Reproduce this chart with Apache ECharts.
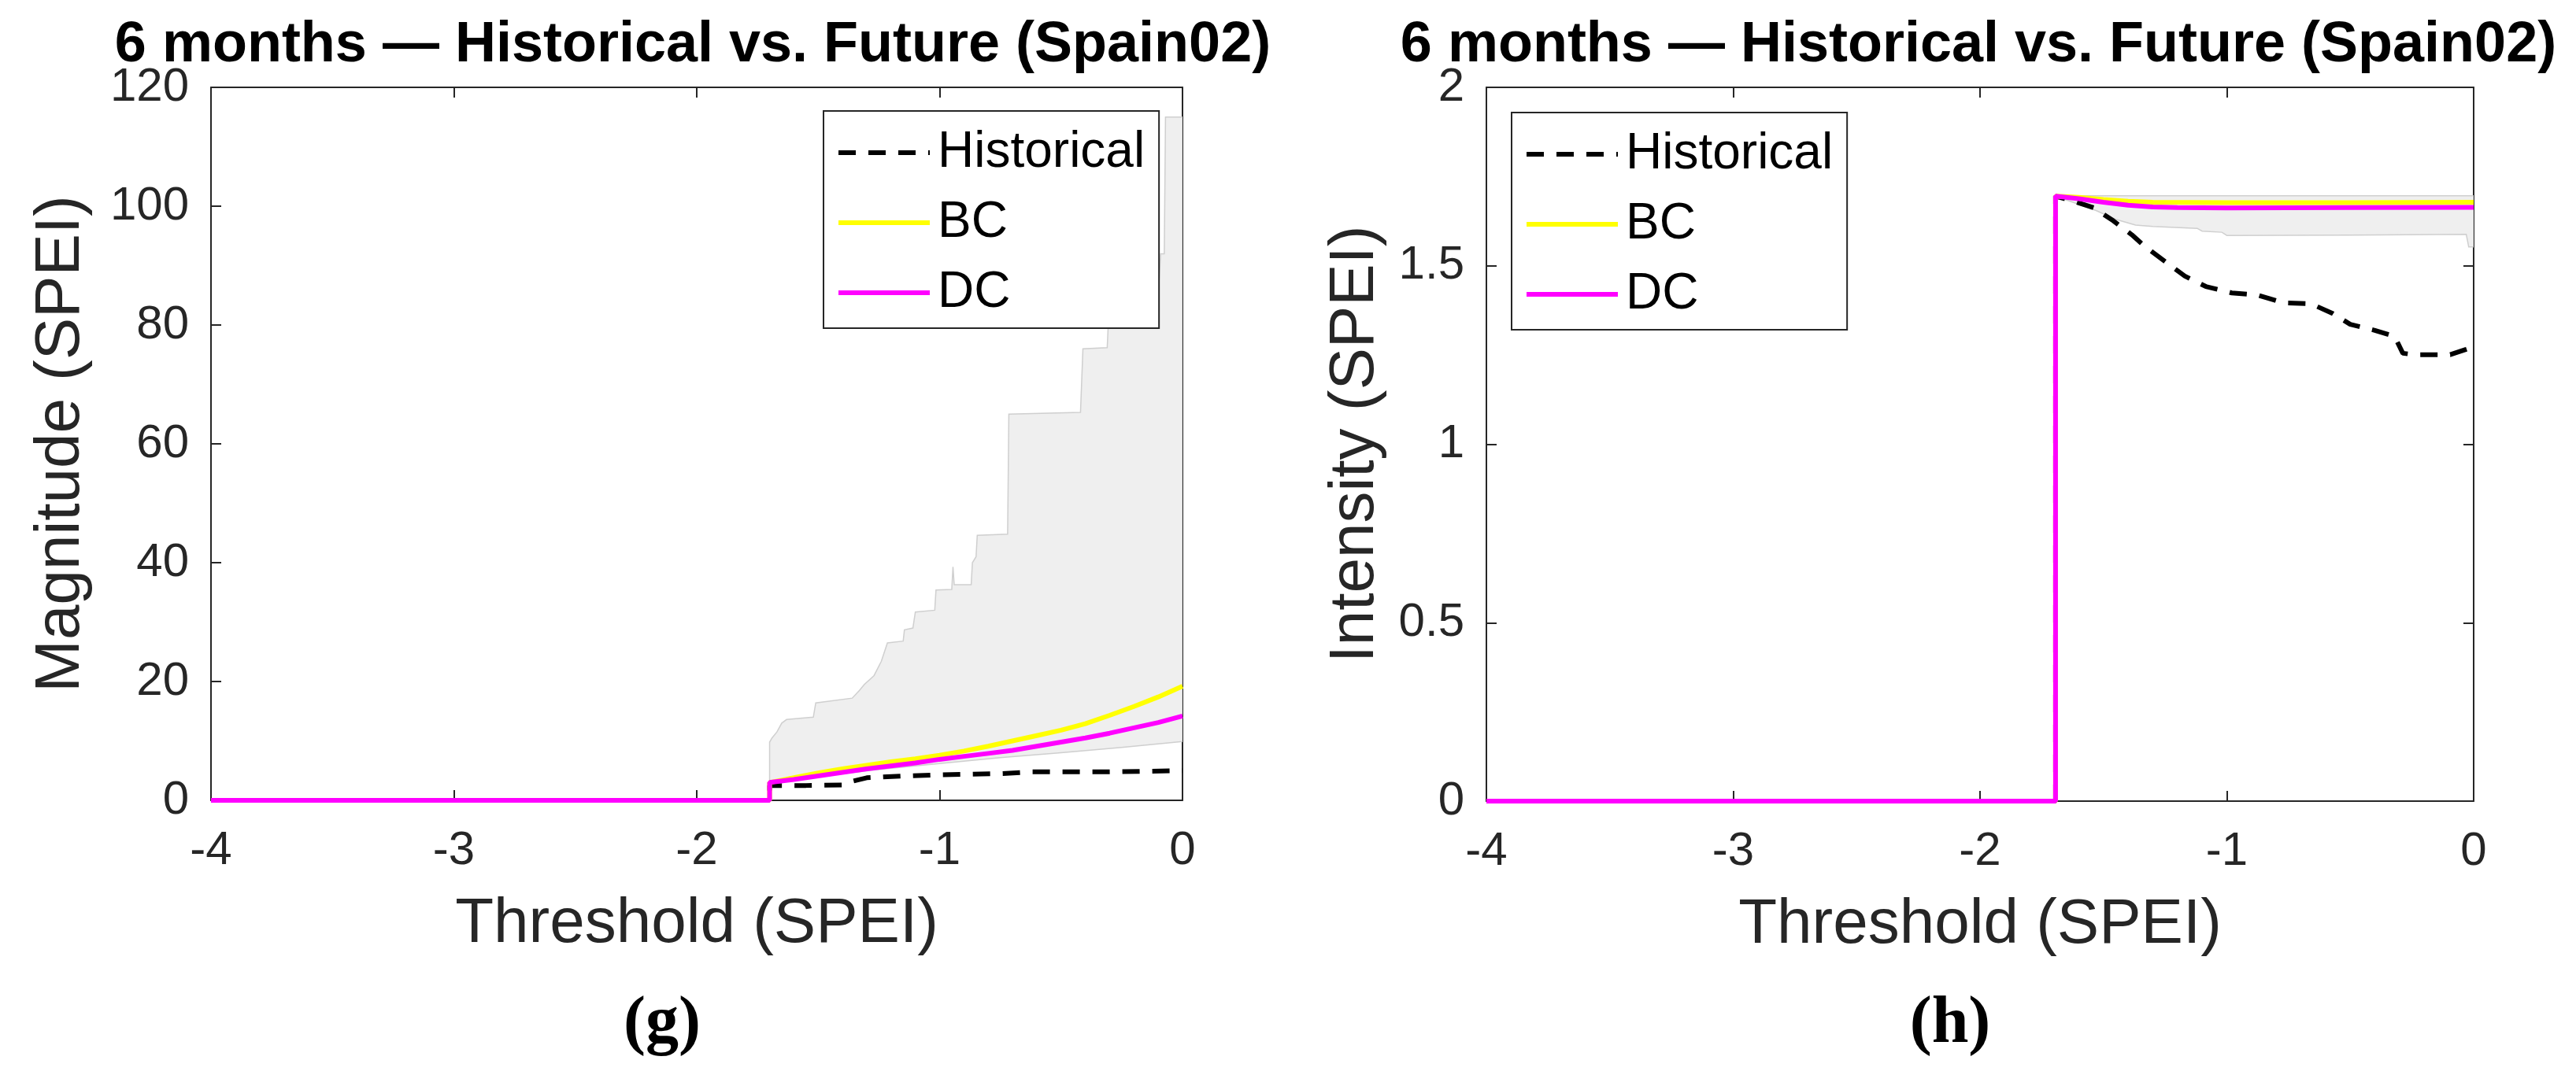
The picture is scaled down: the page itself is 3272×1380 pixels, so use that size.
<!DOCTYPE html>
<html>
<head>
<meta charset="utf-8">
<script src="https://cdn.jsdelivr.net/npm/echarts@6/dist/echarts.min.js"></script>
<style>
html,body{margin:0;padding:0;background:#fff;}
#chart{width:3272px;height:1380px;}
</style>
</head>
<body>
<div id="chart"></div>
<script>
// ---------- DATA ----------
const xTicks = [-4, -3, -2, -1, 0];

// (g) Magnitude
const magBCx  = [-4, -1.70, -1.70, -1.6, -1.5, -1.4, -1.3, -1.2, -1.1, -1.0, -0.9, -0.8, -0.7, -0.6, -0.5, -0.4, -0.3, -0.2, -0.1, 0];
const magBCy  = [0, 0, 3.0, 3.8, 4.6, 5.3, 5.9, 6.5, 7.0, 7.6, 8.3, 9.1, 10.0, 10.9, 11.8, 12.9, 14.3, 15.8, 17.4, 19.2];
const magDCx  = [-4, -1.70, -1.70, -1.6, -1.5, -1.4, -1.3, -1.2, -1.1, -1.0, -0.9, -0.8, -0.7, -0.6, -0.5, -0.4, -0.3, -0.2, -0.1, 0];
const magDCy  = [0, 0, 3.0, 3.5, 4.1, 4.7, 5.3, 5.8, 6.3, 6.9, 7.4, 7.9, 8.4, 9.1, 9.8, 10.5, 11.3, 12.2, 13.1, 14.2];
const magHistX = [-4, -1.70, -1.70, -1.55, -1.40, -1.36, -1.30, -1.15, -1.0, -0.74, -0.62, -0.30, 0];
const magHistY = [0, 0, 2.5, 2.5, 2.6, 3.2, 3.8, 4.1, 4.3, 4.5, 4.8, 4.8, 5.0];
const magUpX = [-1.70, -1.70, -1.69, -1.67, -1.65, -1.63, -1.52, -1.51, -1.36, -1.33, -1.31, -1.27, -1.24, -1.215, -1.15, -1.145, -1.11, -1.10, -1.02, -1.015, -0.95, -0.945, -0.94, -0.87, -0.865, -0.85, -0.845, -0.72, -0.715, -0.42, -0.41, -0.31, -0.30, -0.10, -0.09, -0.075, -0.07, 0];
const magUpY = [3.0, 9.8, 10.5, 11.5, 13.0, 13.6, 14.0, 16.4, 17.2, 18.5, 19.5, 21.0, 23.4, 26.5, 26.8, 28.7, 29.0, 31.7, 32.0, 35.4, 35.5, 39.3, 36.3, 36.3, 40.0, 41.0, 44.6, 44.8, 65.0, 65.3, 76.0, 76.2, 85.0, 85.0, 92.0, 92.0, 115.0, 115.0];
const magLoX = [-1.70, -1.5, -1.25, -1.0, -0.75, -0.5, -0.25, 0];
const magLoY = [3.0, 4.0, 5.2, 6.2, 7.2, 8.0, 8.9, 9.9];

// (h) Intensity
const intBCx = [-4, -1.694, -1.694, -1.6, -1.5, -1.4, -1.3, -1.0, -0.5, 0];
const intBCy = [0, 0, 1.695, 1.692, 1.686, 1.681, 1.678, 1.677, 1.677, 1.678];
const intDCx = [-4, -1.694, -1.694, -1.6, -1.5, -1.4, -1.3, -1.2, -1.0, -0.5, 0];
const intDCy = [0, 0, 1.695, 1.688, 1.678, 1.670, 1.665, 1.663, 1.662, 1.663, 1.664];
const intHistX = [-4, -1.694, -1.694, -1.64, -1.54, -1.46, -1.385, -1.33, -1.25, -1.17, -1.085, -0.98, -0.877, -0.77, -0.66, -0.57, -0.50, -0.40, -0.32, -0.287, -0.24, -0.095, -0.03, 0];
const intHistY = [0, 0, 1.695, 1.685, 1.663, 1.626, 1.587, 1.553, 1.512, 1.471, 1.442, 1.424, 1.418, 1.396, 1.394, 1.366, 1.336, 1.319, 1.302, 1.255, 1.251, 1.251, 1.266, 1.273];
const intUpX = [-1.694, 0];
const intUpY = [1.696, 1.696];
const intLoX = [-1.694, -1.53, -1.45, -1.37, -1.30, -1.12, -1.10, -1.02, -1.0, -0.5, -0.03, -0.02, 0];
const intLoY = [1.695, 1.655, 1.63, 1.614, 1.61, 1.605, 1.597, 1.594, 1.585, 1.586, 1.588, 1.553, 1.553];

const seriesNames = ['Historical', 'BC', 'DC'];
const titleText = '6 months \u2014 Historical vs. Future (Spain02)';

// ---------- HELPERS ----------
const INK = '#262626';
const zip = (xs, ys) => xs.map((x, i) => [x, ys[i]]);

function bandSeries(xi, yi, upX, upY, loX, loY) {
  return {
    type: 'custom', xAxisIndex: xi, yAxisIndex: yi, silent: true, clip: true,
    data: zip(upX, upY), encode: { x: 0, y: 1 }, z: 1,
    renderItem: function (params, api) {
      if (params.dataIndex !== 0) return null;
      const pts = [];
      for (let i = 0; i < upX.length; i++) pts.push(api.coord([upX[i], upY[i]]));
      for (let i = loX.length - 1; i >= 0; i--) pts.push(api.coord([loX[i], loY[i]]));
      return { type: 'polygon', shape: { points: pts },
        style: { fill: '#efefef', stroke: '#cfcfcf', lineWidth: 1.5 } };
    }
  };
}
function lineSeries(name, xi, yi, xs, ys, color, dashed) {
  return {
    name: name, type: 'line', xAxisIndex: xi, yAxisIndex: yi,
    data: zip(xs, ys), showSymbol: false, symbol: 'none', z: 3,
    lineStyle: { color: color, width: 6, type: dashed ? [22, 16] : 'solid' },
    itemStyle: { color: color }
  };
}
function xAx(grid, pos, showLabel) {
  return {
    gridIndex: grid, type: 'value', position: pos, min: -4, max: 0, interval: 1,
    name: showLabel ? 'Threshold (SPEI)' : '', nameLocation: 'middle', nameGap: 118,
    nameTextStyle: { fontFamily: 'Liberation Sans', fontSize: 80, color: INK },
    axisLine: { show: true, onZero: false, lineStyle: { color: INK, width: 2 } },
    axisTick: { show: true, inside: true, length: 13, lineStyle: { color: INK, width: 2 } },
    axisLabel: { show: showLabel, margin: 34, fontFamily: 'Liberation Sans', fontSize: 60, color: INK },
    splitLine: { show: false }
  };
}
function yAx(grid, pos, showLabel, max, interval, name, gap) {
  return {
    gridIndex: grid, type: 'value', position: pos, min: 0, max: max, interval: interval,
    name: showLabel ? name : '', nameLocation: 'middle', nameGap: gap, nameRotate: 90,
    nameTextStyle: { fontFamily: 'Liberation Sans', fontSize: 80, color: INK },
    axisLine: { show: true, onZero: false, lineStyle: { color: INK, width: 2 } },
    axisTick: { show: true, inside: true, length: 13, lineStyle: { color: INK, width: 2 } },
    axisLabel: { show: showLabel, margin: 28, fontFamily: 'Liberation Sans', fontSize: 60, color: INK },
    splitLine: { show: false }
  };
}
function legendAt(left, top) {
  return {
    left: left, top: top, orient: 'vertical', data: seriesNames, selectedMode: false,
    itemWidth: 116, itemHeight: 60, itemGap: 25,
    padding: [21, 18, 13, 16],
    backgroundColor: '#fff', borderColor: INK, borderWidth: 2,
    itemStyle: { opacity: 0 },
    lineStyle: { width: 6 },
    textStyle: { fontFamily: 'Liberation Sans', fontSize: 64, color: '#000', padding: [0, 0, 0, 5] }
  };
}

// ---------- CHART ----------
const chart = echarts.init(document.getElementById('chart'));
chart.setOption({
  backgroundColor: '#fff',
  animation: false,
  grid: [
    { left: 268, top: 111, width: 1234, height: 906 },
    { left: 1888, top: 111, width: 1254, height: 907 }
  ],
  xAxis: [xAx(0, 'bottom', true), xAx(0, 'top', false), xAx(1, 'bottom', true), xAx(1, 'top', false)],
  yAxis: [
    yAx(0, 'left', true, 120, 20, 'Magnitude (SPEI)', 150),
    yAx(0, 'right', false, 120, 20, '', 0),
    yAx(1, 'left', true, 2, 0.5, 'Intensity (SPEI)', 126),
    yAx(1, 'right', false, 2, 0.5, '', 0)
  ],
  legend: [legendAt(1046, 141), legendAt(1920, 143)],
  graphic: [
    { type: 'text', x: 880, y: 58, style: { text: titleText, fontFamily: 'Liberation Sans', fontWeight: 'bold', fontSize: 72, fill: '#000', textAlign: 'center', textVerticalAlign: 'middle' } },
    { type: 'text', x: 2513, y: 58, style: { text: titleText, fontFamily: 'Liberation Sans', fontWeight: 'bold', fontSize: 72, fill: '#000', textAlign: 'center', textVerticalAlign: 'middle' } },
    { type: 'text', x: 841, y: 1302, style: { text: '(g)', fontFamily: 'Liberation Serif', fontWeight: 'bold', fontSize: 84, fill: '#000', textAlign: 'center', textVerticalAlign: 'middle' } },
    { type: 'text', x: 2477, y: 1302, style: { text: '(h)', fontFamily: 'Liberation Serif', fontWeight: 'bold', fontSize: 84, fill: '#000', textAlign: 'center', textVerticalAlign: 'middle' } }
  ],
  series: [
    bandSeries(0, 0, magUpX, magUpY, magLoX, magLoY),
    lineSeries('Historical', 0, 0, magHistX, magHistY, '#000000', true),
    lineSeries('BC', 0, 0, magBCx, magBCy, '#ffff00', false),
    lineSeries('DC', 0, 0, magDCx, magDCy, '#ff00ff', false),
    bandSeries(2, 2, intUpX, intUpY, intLoX, intLoY),
    lineSeries('Historical', 2, 2, intHistX, intHistY, '#000000', true),
    lineSeries('BC', 2, 2, intBCx, intBCy, '#ffff00', false),
    lineSeries('DC', 2, 2, intDCx, intDCy, '#ff00ff', false)
  ]
});
</script>
</body>
</html>
